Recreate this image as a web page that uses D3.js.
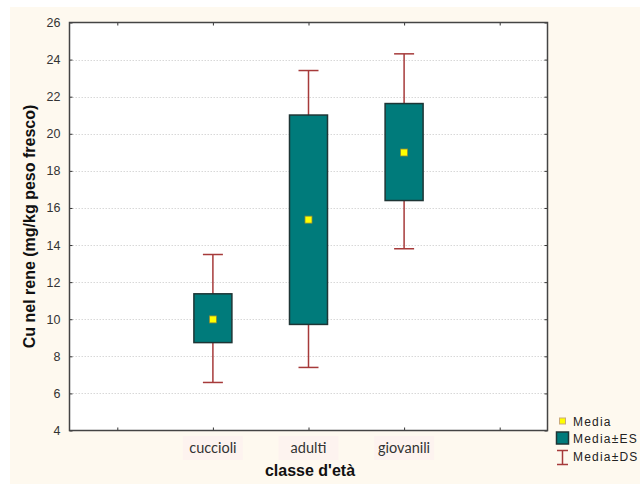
<!DOCTYPE html>
<html><head><meta charset="utf-8">
<script src="https://cdn.jsdelivr.net/npm/d3@7"></script>
<style>html,body{margin:0;padding:0;background:#fff;}</style>
</head><body>
<svg id="c" width="640" height="484"></svg>
<script>
const categories = ["cuccioli", "adulti", "giovanili"];
const slots = ["_a", "cuccioli", "adulti", "giovanili", "_b"];
const means = [9.99, 15.37, 18.99];
const seLow = [8.74, 9.72, 16.40];
const seHigh = [11.37, 21.01, 21.63];
const sdLow = [6.59, 7.40, 13.80];
const sdHigh = [13.49, 23.41, 24.31];
const yTicks = [4, 6, 8, 10, 12, 14, 16, 18, 20, 22, 24, 26];
const legendLabels = ["Media", "Media±ES", "Media±DS"];

const svg = d3.select("#c");
svg.append("rect").attr("x", 10).attr("y", 7).attr("width", 630).attr("height", 477).attr("fill", "#fef9ef");

const L = 69.5, R = 547.5, T = 22.5, B = 430.5;
const x = d3.scalePoint().domain(slots).range([L, R]).padding(0.5);
const y = d3.scaleLinear().domain([4, 26]).range([B, T]);

const g = svg.append("g");
g.append("rect").attr("x", L).attr("y", T).attr("width", R - L).attr("height", B - T).attr("fill", "#fff");

// gridlines
g.selectAll(".grid").data(yTicks.filter(t => t > 4 && t < 26)).enter().append("line")
  .attr("x1", L).attr("x2", R).attr("y1", d => Math.round(y(d)) + 0.5).attr("y2", d => Math.round(y(d)) + 0.5)
  .attr("stroke", "#d8d8d8").attr("stroke-width", 1).attr("stroke-dasharray", "1.5,1.5");

// axes
const axL = d3.axisLeft(y).tickValues(yTicks).tickSize(-3).tickPadding(10);
const gl = g.append("g").attr("transform", `translate(${L},0)`).call(axL);
gl.select(".domain").remove();
gl.selectAll(".tick line").attr("stroke", "#333");
gl.selectAll(".tick text").attr("font-family", "Liberation Sans, Arial, sans-serif").attr("font-size", 12.5).attr("fill", "#333").attr("x", -9);

const axR = d3.axisRight(y).tickValues(yTicks).tickSize(-3).tickFormat("");
const gr = g.append("g").attr("transform", `translate(${R},0)`).call(axR);
gr.select(".domain").remove();
gr.selectAll(".tick line").attr("stroke", "#333");

const axT = d3.axisTop(x).tickSize(-3).tickFormat("");
const gt = g.append("g").attr("transform", `translate(0,${T})`).call(axT);
gt.select(".domain").remove();
gt.selectAll(".tick line").attr("stroke", "#333");

const axB = d3.axisBottom(x).tickSize(-3).tickFormat("");
const gb = g.append("g").attr("transform", `translate(0,${B})`).call(axB);
gb.select(".domain").remove();
gb.selectAll(".tick line").attr("stroke", "#333");

// frame
g.append("rect").attr("x", L).attr("y", T).attr("width", R - L).attr("height", B - T)
  .attr("fill", "none").attr("stroke", "#444").attr("stroke-width", 1.5);

// category labels with faint backgrounds
const lab = g.selectAll(".cat").data(categories).enter().append("g");
lab.append("rect").attr("x", d => x(d) - 30).attr("y", 436).attr("width", 60).attr("height", 24).attr("fill", "#fdf3ef");
lab.append("text").attr("x", d => x(d)).attr("y", 453).attr("text-anchor", "middle")
  .attr("font-family", "Lato, 'Open Sans', sans-serif").attr("font-size", 14.5).attr("fill", "#333").text(d => d);

// whiskers
const cap = 20, bw = 38;
const data = categories.map((c, i) => ({c, m: means[i], sl: seLow[i], sh: seHigh[i], dl: sdLow[i], dh: sdHigh[i]}));
const w = g.selectAll(".w").data(data).enter().append("g").attr("stroke", "#a63a3a").attr("stroke-width", 1.5);
w.append("line").attr("x1", d => x(d.c)).attr("x2", d => x(d.c)).attr("y1", d => y(d.dh)).attr("y2", d => y(d.dl));
w.append("line").attr("x1", d => x(d.c) - cap / 2).attr("x2", d => x(d.c) + cap / 2).attr("y1", d => y(d.dh)).attr("y2", d => y(d.dh));
w.append("line").attr("x1", d => x(d.c) - cap / 2).attr("x2", d => x(d.c) + cap / 2).attr("y1", d => y(d.dl)).attr("y2", d => y(d.dl));

// boxes
g.selectAll(".box").data(data).enter().append("rect")
  .attr("x", d => x(d.c) - bw / 2).attr("y", d => y(d.sh)).attr("width", bw).attr("height", d => y(d.sl) - y(d.sh))
  .attr("fill", "#007b7b").attr("stroke", "#1e3535").attr("stroke-width", 1.5);

// means
g.selectAll(".mean").data(data).enter().append("rect")
  .attr("x", d => x(d.c) - 3.5).attr("y", d => y(d.m) - 3.5).attr("width", 7).attr("height", 7)
  .attr("fill", "#ffff00").attr("stroke", "#8a8a3a").attr("stroke-width", 0.8);

// axis titles
svg.append("text").attr("transform", `translate(35,${(T + B) / 2}) rotate(-90)`).attr("text-anchor", "middle")
  .attr("font-family", "Liberation Sans, Arial, sans-serif").attr("font-weight", "bold").attr("font-size", 16).attr("fill", "#111")
  .text("Cu nel rene (mg/kg peso fresco)");
svg.append("text").attr("x", 310).attr("y", 476).attr("text-anchor", "middle")
  .attr("font-family", "Liberation Sans, Arial, sans-serif").attr("font-weight", "bold").attr("font-size", 16).attr("fill", "#111")
  .text("classe d'età");

// legend
const lg = svg.append("g");
lg.append("rect").attr("x", 559.5).attr("y", 418).attr("width", 6).attr("height", 6).attr("fill", "#ffff00").attr("stroke", "#c9a97a").attr("stroke-width", 1);
lg.append("rect").attr("x", 556.5).attr("y", 432).attr("width", 12).attr("height", 12).attr("fill", "#007b7b").attr("stroke", "#1e3535").attr("stroke-width", 1.5);
lg.append("line").attr("x1", 562.5).attr("x2", 562.5).attr("y1", 450).attr("y2", 465).attr("stroke", "#a63a3a").attr("stroke-width", 1.5);
lg.append("line").attr("x1", 557).attr("x2", 568).attr("y1", 450.5).attr("y2", 450.5).attr("stroke", "#a63a3a").attr("stroke-width", 1.5);
lg.append("line").attr("x1", 557).attr("x2", 568).attr("y1", 464.5).attr("y2", 464.5).attr("stroke", "#a63a3a").attr("stroke-width", 1.5);
lg.selectAll(".lt").data(legendLabels).enter().append("text")
  .attr("x", 573).attr("y", (d, i) => 425.5 + i * 17.5)
  .attr("font-family", "Liberation Sans, Arial, sans-serif").attr("font-size", 12).attr("letter-spacing", 1.2).attr("fill", "#222")
  .text(d => d);
</script>
</body></html>
